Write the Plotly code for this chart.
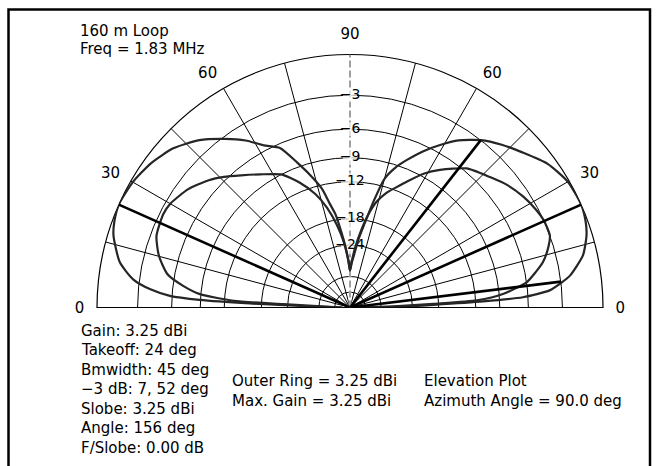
import plotly.graph_objects as go

# ---------------- data (elevation angle in deg, relative gain in dB) ----------------
outer_right_elev = [0, 1.0, 1.85, 2.6, 3.4, 4.9, 6.8, 8.3, 12.6, 16.9, 20, 24, 30, 36, 42, 47, 52, 57, 61, 65, 69, 72, 75, 77.5, 80, 83, 86, 88, 90]
outer_right_db = [-60, -28, -19, -11, -6.5, -4.0, -2.9, -2.2, -1.0, -0.4, -0.15, 0, -0.1, -0.6, -1.5, -2.2, -3.0, -4.1, -5.3, -6.6, -8.1, -9.3, -11, -14.5, -18.5, -22.5, -27.5, -30, -33]
outer_left_elev = [0, 1.9, 2.3, 2.9, 3.7, 5.2, 7.4, 11.1, 16.9, 20, 24, 30, 36, 42, 48, 53.4, 58, 62, 66.3, 70, 73.5, 76.7, 79, 81.2, 83.6, 85.5, 88]
outer_left_db = [-60, -27.8, -15.9, -8.9, -5.8, -4.0, -2.5, -1.3, -0.4, -0.15, 0, -0.15, -0.5, -1.06, -2.0, -3.2, -4.3, -5.5, -6.4, -8.5, -10.5, -12.5, -15, -17, -20.9, -24, -28.7]

inner_right_elev = [0, 1.5, 2.5, 3.2, 5.1, 8.1, 10.8, 13.2, 17, 19.8, 24.3, 28, 32.6, 38, 43, 50, 56.8, 61, 65.5, 69, 72.5, 76, 79, 82, 85, 88, 90]
inner_right_db = [-60, -30, -19, -11.8, -8.5, -6.0, -5.0, -4.2, -3.4, -3.0, -3.0, -3.2, -3.55, -4.1, -4.8, -5.7, -7.4, -8.6, -10.3, -11.6, -12.8, -14.5, -17, -20.5, -24.5, -29.5, -33]
inner_left_elev = [0, 2.9, 3.3, 5.1, 7.4, 10.4, 15.2, 20.3, 26.6, 30, 36.2, 42, 46, 50.5, 56, 62.7, 68, 73, 77, 81, 84.5, 88]
inner_left_db = [-60, -22.9, -13.3, -8.9, -7.0, -5.3, -4.2, -3.5, -3.3, -3.4, -4.0, -4.9, -5.7, -6.7, -7.8, -9.0, -10.8, -13, -15.5, -19, -23, -29]

# heavy marker lines (takeoff, -3 dB points, side lobe)
marker_theta = [24, 52, 7, 156]
marker_db = [0, -3, -3, 0]

ring_db = [-3, -6, -9, -12, -18, -24, -36, -48]
ring_labels = ["−3", "−6", "−9", "−12", "−18", "−24"]

angle_ticks = [0, 15, 30, 45, 60, 75, 90, 105, 120, 135, 150, 165, 180]
angle_labels = ["0", "", "30", "", "60", "", "90", "", "60", "", "30", "", "0"]

info_lines = ["Gain: 3.25 dBi", "Takeoff: 24 deg", "Bmwidth: 45 deg", "−3 dB: 7, 52 deg",
              "Slobe: 3.25 dBi", "Angle: 156 deg", "F/Slobe: 0.00 dB"]
ring_lines = ["Outer Ring = 3.25 dBi", "Max. Gain = 3.25 dBi"]
plot_lines = ["Elevation Plot", "Azimuth Angle = 90.0 deg"]
title_lines = ["160 m Loop", "Freq = 1.83 MHz"]


def arrl(db):
    """ARRL log scale: radius shrinks by 0.89 for every 2 dB."""
    return 0.89 ** (-db / 2.0)


def build(right_elev, right_db, left_elev, left_db):
    theta = list(right_elev) + [180 - e for e in reversed(left_elev)]
    r = [arrl(d) for d in right_db] + [arrl(d) for d in reversed(left_db)]
    return theta, r


W, H = 657, 466
FONT = "DejaVu Sans"

fig = go.Figure()

# dashed vertical axis (90 deg)
fig.add_trace(go.Scatterpolar(theta=[90, 90], r=[0, 1], mode="lines",
                              line=dict(color="white", width=2.5), hoverinfo="skip"))
fig.add_trace(go.Scatterpolar(theta=[90, 90], r=[0, 1], mode="lines",
                              line=dict(color="#808080", width=1.5, dash="7px,3px"), hoverinfo="skip"))

# ring labels
fig.add_trace(go.Scatterpolar(
    theta=[90] * len(ring_labels), r=[arrl(d) for d in ring_db[:len(ring_labels)]],
    mode="markers+text", text=ring_labels, textposition="middle center",
    marker=dict(symbol="square", size=[13, 13, 13, 17, 17, 17], color="white"),
    textfont=dict(family=FONT, size=14, color="black"), hoverinfo="skip"))

th, rr = build(outer_right_elev, outer_right_db, outer_left_elev, outer_left_db)
fig.add_trace(go.Scatterpolar(theta=th, r=rr, mode="lines",
                              line=dict(color="#262626", width=2.2, shape="spline", smoothing=0.6)))
th, rr = build(inner_right_elev, inner_right_db, inner_left_elev, inner_left_db)
fig.add_trace(go.Scatterpolar(theta=th, r=rr, mode="lines",
                              line=dict(color="#262626", width=2.2, shape="spline", smoothing=0.6)))

for t, d in zip(marker_theta, marker_db):
    fig.add_trace(go.Scatterpolar(theta=[t, t], r=[0, arrl(d)], mode="lines",
                                  line=dict(color="black", width=2.6)))

cx0, cx1 = 97, 603
cy_top, cy_base = 54.5, 307.5
fig.update_layout(
    width=W, height=H, showlegend=False,
    margin=dict(l=0, r=0, t=0, b=0),
    paper_bgcolor="white", plot_bgcolor="white",
    font=dict(family=FONT, size=15, color="black"),
    polar=dict(
        domain=dict(x=[cx0 / W, cx1 / W], y=[(H - cy_base) / H, (H - cy_top) / H]),
        sector=[0, 180],
        bgcolor="white",
        radialaxis=dict(range=[0, 1], tickvals=[arrl(d) for d in ring_db],
                        showticklabels=False, ticks="", showline=False,
                        gridcolor="black", gridwidth=1, layer="below traces"),
        angularaxis=dict(direction="counterclockwise", rotation=0,
                         tickvals=angle_ticks, ticktext=angle_labels,
                         ticks="outside", ticklen=9, tickcolor="rgba(0,0,0,0)",
                         showline=True, linecolor="black", linewidth=1.2,
                         gridcolor="black", gridwidth=1, layer="below traces",
                         tickfont=dict(family=FONT, size=15, color="black")),
    ),
)

annotations = []
def add_lines(lines, xpx, ypx0, step):
    for i, t in enumerate(lines):
        annotations.append(dict(text=t, x=xpx / W, y=(H - (ypx0 + i * step)) / H,
                                xref="paper", yref="paper", xanchor="left", yanchor="middle",
                                showarrow=False, font=dict(family=FONT, size=15, color="black")))

add_lines(title_lines, 78, 30.5, 19)
add_lines(info_lines, 79, 330.5, 19.5)
add_lines(ring_lines, 230, 381, 20)
add_lines(plot_lines, 421.5, 381, 20)
fig.update_layout(annotations=annotations)

fig.add_shape(type="rect", xref="paper", yref="paper",
              x0=8.5 / W, x1=650 / W, y0=(H - 490) / H, y1=(H - 9.5) / H,
              line=dict(color="black", width=2.5), fillcolor="rgba(0,0,0,0)")

fig.write_html("out.html", config={"displayModeBar": False},
               post_script="document.body.style.margin='0';document.body.style.overflow='hidden';")
